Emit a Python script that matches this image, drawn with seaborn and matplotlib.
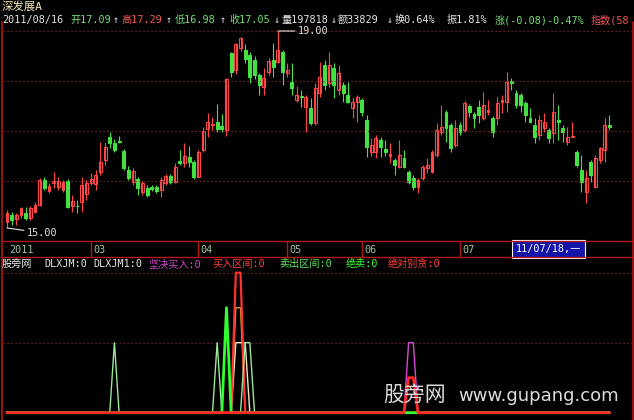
import numpy as np
import pandas as pd
import matplotlib
matplotlib.use("Agg")
import matplotlib.pyplot as plt
from matplotlib.lines import Line2D
import seaborn as sns

# ---------------- data ----------------
opens = [15.13, 15.26, 15.18, 15.26, 15.30, 15.20, 15.33, 15.47, 15.97, 15.76,
         15.92, 15.84, 15.78, 15.96, 15.45, 15.45, 15.53, 15.70, 15.91, 15.89,
         16.14, 16.38, 16.85, 16.73, 16.77, 16.57, 16.18, 15.94, 15.99, 15.73,
         15.81, 15.84, 15.84, 15.77, 15.91, 16.06, 15.94, 16.36, 16.32, 16.44,
         16.34, 16.04, 16.59, 17.00, 17.09, 17.16, 17.07, 16.99, 18.55, 18.21,
         18.65, 18.61, 18.51, 18.41, 18.11, 17.86, 18.17, 18.41, 18.37, 18.57,
         18.15, 17.96, 17.60, 17.68, 17.46, 17.44, 17.13, 17.74, 18.31, 17.94,
         18.25, 17.80, 17.90, 17.70, 17.44, 17.56, 17.60, 17.19, 16.54, 16.54,
         16.79, 16.60, 16.46, 16.38, 16.24, 16.42, 16.14, 16.01, 15.83, 16.01,
         16.22, 16.14, 16.48, 16.95, 17.36, 17.09, 16.69, 17.09, 16.99, 17.48,
         17.31, 17.46, 17.23, 17.36, 17.23, 17.23, 17.56, 17.56, 17.98, 17.74,
         17.70, 17.54, 17.23, 17.09, 16.89, 17.03, 16.99, 16.93, 17.19, 17.03,
         16.75, 16.85, 16.54, 16.18, 15.73, 16.34, 15.83, 16.38, 16.58, 17.09]
highs = [15.37, 15.33, 15.30, 15.43, 15.43, 15.45, 15.53, 16.02, 16.04, 15.91,
         16.14, 16.04, 15.98, 16.00, 15.67, 15.57, 16.04, 15.98, 16.12, 16.18,
         16.75, 16.75, 16.95, 16.81, 16.87, 16.61, 16.26, 16.22, 16.04, 15.96,
         15.87, 15.87, 15.87, 16.04, 16.10, 16.10, 16.32, 16.58, 16.73, 16.67,
         16.38, 16.58, 17.05, 17.34, 17.26, 17.52, 17.32, 18.05, 18.57, 18.76,
         18.88, 18.74, 18.57, 18.49, 18.15, 18.25, 18.45, 18.76, 19.00, 18.61,
         18.35, 18.35, 17.88, 17.80, 17.70, 17.64, 17.94, 18.37, 18.41, 18.57,
         18.35, 18.31, 17.96, 17.96, 17.64, 17.70, 17.64, 17.29, 16.83, 16.89,
         16.85, 16.79, 16.73, 16.42, 16.79, 16.58, 16.18, 16.08, 16.01, 16.28,
         16.42, 16.58, 17.13, 17.50, 17.40, 17.13, 17.19, 17.15, 17.58, 17.52,
         17.36, 17.60, 17.76, 17.60, 17.27, 17.66, 17.70, 18.17, 18.05, 17.80,
         17.74, 17.58, 17.44, 17.23, 17.29, 17.34, 17.03, 17.74, 17.50, 17.09,
         17.05, 17.15, 16.58, 16.48, 16.18, 16.38, 16.48, 16.65, 17.23, 17.29]
lows = [15.00, 15.06, 15.06, 15.20, 15.16, 15.16, 15.30, 15.45, 15.77, 15.71,
        15.81, 15.77, 15.73, 15.41, 15.33, 15.31, 15.33, 15.57, 15.87, 15.77,
        16.08, 16.28, 16.63, 16.55, 16.73, 16.18, 15.97, 15.87, 15.67, 15.67,
        15.63, 15.75, 15.71, 15.63, 15.87, 15.90, 15.91, 16.28, 16.24, 16.24,
        16.00, 16.04, 16.55, 16.85, 16.99, 16.95, 16.95, 16.87, 18.07, 18.13,
        18.59, 18.35, 17.95, 18.03, 17.70, 17.70, 18.11, 18.07, 18.35, 17.90,
        18.07, 17.70, 17.56, 17.46, 16.95, 17.09, 17.09, 17.66, 17.80, 17.86,
        17.64, 17.70, 17.56, 17.54, 17.23, 17.15, 17.27, 16.44, 16.46, 16.42,
        16.44, 16.46, 16.32, 16.08, 16.22, 16.22, 15.89, 15.77, 15.71, 15.97,
        16.12, 16.12, 16.44, 16.89, 16.75, 16.54, 16.64, 16.89, 16.95, 17.25,
        17.03, 17.13, 17.19, 17.29, 16.85, 17.09, 17.34, 17.36, 17.80, 17.44,
        17.36, 17.15, 17.13, 16.72, 16.79, 16.95, 16.72, 16.72, 16.79, 16.75,
        16.68, 16.85, 16.24, 15.73, 15.51, 15.93, 15.81, 16.32, 16.34, 16.98]
closes = [15.30, 15.16, 15.26, 15.41, 15.20, 15.41, 15.47, 15.97, 15.81, 15.86,
          15.96, 15.96, 15.93, 15.43, 15.55, 15.44, 15.87, 15.91, 15.99, 16.08,
          16.34, 16.65, 16.73, 16.59, 16.75, 16.22, 16.01, 16.16, 15.81, 15.92,
          15.67, 15.80, 15.75, 15.97, 16.06, 15.94, 16.24, 16.32, 16.46, 16.34,
          16.04, 16.54, 16.97, 17.16, 17.12, 17.00, 17.00, 18.03, 18.17, 18.74,
          18.86, 18.43, 18.07, 18.11, 17.90, 18.05, 18.39, 18.27, 18.61, 18.17,
          18.21, 17.84, 17.70, 17.66, 17.66, 17.13, 17.84, 18.07, 17.90, 18.31,
          17.90, 18.15, 17.74, 17.56, 17.56, 17.66, 17.36, 16.65, 16.69, 16.83,
          16.65, 16.54, 16.50, 16.28, 16.48, 16.24, 15.93, 15.83, 15.97, 16.24,
          16.28, 16.54, 16.99, 17.05, 17.03, 16.62, 17.03, 16.95, 17.54, 17.36,
          17.23, 17.29, 17.50, 17.40, 16.95, 17.54, 17.60, 17.96, 17.94, 17.50,
          17.50, 17.29, 17.15, 16.85, 17.19, 17.15, 16.83, 17.36, 17.15, 16.95,
          16.85, 16.87, 16.28, 15.93, 16.01, 16.08, 16.42, 16.62, 17.09, 17.05]

month_labels = ["2011", "03", "04", "05", "06", "07"]
month_idx = [0, 18, 41, 60, 76, 97]
cursor_idx = 108
cursor_label = "11/07/18,一"
max_label, min_label = "19.00", "15.00"

# indicator spikes (index, value); zero elsewhere
dlxjm_idx, dlxjm_val = [49, 50], [1.5, 1.5]
dlxjm1_idx, dlxjm1_val = [49, 50, 51], [1.0, 1.0, 1.0]
jjmr_idx, jjmr_val = [86, 87], [1.0, 1.0]
mrqj_idx, mrqj_val = [49, 50], [2.0, 2.0]
mcqj_idx, mcqj_val = [23, 45, 51, 52], [1.0, 1.0, 1.0, 1.0]
jm_idx, jm_val = [47], [1.5]
jdbt_idx, jdbt_val = [86, 87], [0.5, 0.5]

# ---------------- style ----------------
sns.set_theme(style="dark", rc={"axes.facecolor": "black", "figure.facecolor": "black",
                                "savefig.facecolor": "black"})
plt.rcParams["font.family"] = ["DejaVu Sans Mono", "Noto Sans CJK SC"]

W, H = 634, 420
fig = plt.figure(figsize=(W / 100, H / 100), dpi=100, facecolor="black")


def rect(x0, y0, x1, y1):
    return [x0 / W, 1 - y1 / H, (x1 - x0) / W, (y1 - y0) / H]


def fline(x0, y0, x1, y1, color, lw=1.0, ls="-"):
    fig.add_artist(Line2D([x0 / W, x1 / W], [1 - y0 / H, 1 - y1 / H],
                          transform=fig.transFigure, color=color, lw=lw, ls=ls))


def ftext(x, y, s, color, size=7.3, **kw):
    fig.text(x / W, 1 - y / H, s, color=color, fontsize=size, va="center", ha="left", **kw)


RED = "#FF4646"
GRN = "#44E044"
FRAME = "#B01818"
GRID = "#8A2A2A"
WHITE = "#E6E6E6"
XL = (-0.857, 133.83)

n = len(closes)
x = np.arange(n)
o, h, l, c = (np.array(v) for v in (opens, highs, lows, closes))
up = c >= o

# ---------------- price panel ----------------
ax = fig.add_axes(rect(3, 22, 632, 240))
ax.set_facecolor("black")
ax.set_xlim(*XL)
ax.set_ylim(14.756, 19.183)
for f in [0.271, 0.5, 0.729, 0.958]:
    ax.plot([0, 1], [f, f], transform=ax.transAxes, color=GRID, lw=0.8, ls=(0, (1.2, 2.4)))
ax.vlines(x[up], l[up], h[up], color=RED, lw=0.8)
ax.vlines(x[~up], l[~up], h[~up], color=GRN, lw=0.8)
bot = np.minimum(o, c)
ht = np.maximum(np.abs(c - o), 0.005)
ax.bar(x[up], ht[up], bottom=bot[up], width=0.62, facecolor="black", edgecolor=RED, lw=0.8)
ax.bar(x[~up], ht[~up], bottom=bot[~up], width=0.62, color=GRN, edgecolor=GRN, lw=0.8)
imax, imin = int(np.argmax(h)), int(np.argmin(l))
ax.annotate(max_label, xy=(imax, h[imax]), xytext=(14.5, 0), textcoords="offset points",
            color=WHITE, fontsize=7.3, va="center",
            arrowprops=dict(arrowstyle="-", color=WHITE, lw=0.8, shrinkA=0, shrinkB=0))
ax.annotate(min_label, xy=(imin, l[imin]), xytext=(14.5, -3.6), textcoords="offset points",
            color=WHITE, fontsize=7.3, va="center",
            arrowprops=dict(arrowstyle="-", color=WHITE, lw=0.8, shrinkA=0, shrinkB=0))
ax.set_xticks([]); ax.set_yticks([])
for s in ax.spines.values():
    s.set_visible(False)

# ---------------- date bar ----------------
axd = fig.add_axes(rect(3, 241, 632, 257))
axd.set_facecolor("black")
axd.set_xlim(*XL); axd.set_ylim(0, 1)
axd.vlines(month_idx[1:], 0, 1, color=FRAME, lw=1.0)
for i, lab in zip(month_idx, month_labels):
    axd.text(i + 0.5, 0.45, lab, color="#A6C2A0", fontsize=7.3, va="center", ha="left")
axd.text(cursor_idx + 0.9, 0.5, cursor_label, color="white", fontsize=7.3, va="center", ha="left",
         bbox=dict(boxstyle="square,pad=0.4", facecolor="#1414A8", edgecolor="white", lw=0.8))
axd.set_xticks([]); axd.set_yticks([])
for s in axd.spines.values():
    s.set_visible(False)

# ---------------- indicator panel ----------------
def spikes(idx, val):
    s = np.zeros(n)
    s[idx] = val
    return s


df = pd.DataFrame({"i": x,
                   "DLXJM": spikes(dlxjm_idx, dlxjm_val),
                   "DLXJM1": spikes(dlxjm1_idx, dlxjm1_val),
                   "坚决买入": spikes(jjmr_idx, jjmr_val),
                   "买入区间": spikes(mrqj_idx, mrqj_val),
                   "卖出区间": spikes(mcqj_idx, mcqj_val),
                   "绝卖": spikes(jm_idx, jm_val),
                   "绝对别贪": spikes(jdbt_idx, jdbt_val)})

axi = fig.add_axes(rect(3, 268, 632, 418))
axi.set_facecolor("black")
axi.set_xlim(*XL)
axi.set_ylim(-0.0757, 2.067)
for v in [1.0, 2.0]:
    axi.axhline(v, color=GRID, lw=0.8, ls=(0, (1.2, 2.4)))
series = [("DLXJM", "#D89A3A", 1.0), ("DLXJM1", "#F2E6BE", 1.0), ("坚决买入", "#D848D8", 1.0),
          ("买入区间", "#FF3030", 1.6), ("卖出区间", "#98E898", 1.0), ("绝卖", "#30FF30", 2.0),
          ("绝对别贪", "#FF2828", 2.0)]
for name, col, lw in series:
    sns.lineplot(data=df, x="i", y=name, ax=axi, color=col, lw=lw, legend=False)
axi.set_xlabel(""); axi.set_ylabel("")
axi.set_xticks([]); axi.set_yticks([])
for s in axi.spines.values():
    s.set_visible(False)

# ---------------- frame lines ----------------
fline(1.5, 22, 1.5, 420, FRAME, 1.2)
fline(632.5, 22, 632.5, 420, FRAME, 1.2)
fline(2, 241, 633, 241, FRAME, 1.0)
fline(2, 257, 633, 257, FRAME, 1.0)

# ---------------- header texts ----------------
ftext(2, 6, "深发展A", "#F2EAB8", size=8.2)
hdr = [(2, "2011/08/16", WHITE), (70, "开17.09", "#74E074"), (113, "↑", WHITE),
       (121, "高17.29", "#F25A5A"), (166, "↑", WHITE), (175, "低16.98", "#74E074"),
       (220, "↑", WHITE), (229, "收17.05", "#74E074"), (274, "↓", WHITE),
       (282, "量197818", WHITE), (331, "↓", WHITE), (338, "额33829", WHITE),
       (387, "↓", WHITE), (395, "换0.64%", WHITE), (447, "振1.81%", WHITE),
       (495, "涨(-0.08)-0.47%", "#74E074"), (591, "指数(58", "#F25A5A")]
for xx, s, col in hdr:
    ftext(xx, 20, s, col)

ind = [(2, "股旁网", WHITE), (44, "DLXJM:0", WHITE), (93, "DLXJM1:0", WHITE),
       (148, "坚决买入:0", "#D048D0"), (212, "买入区间:0", "#FF4040"),
       (279, "卖出区间:0", "#5CE05C"), (346, "绝卖:0", "#3CFF3C"), (388, "绝对别贪:0", "#FF4040")]
for xx, s, col in ind:
    ftext(xx, 264, s, col)

# watermark
ftext(383, 395, "股旁网", "#DCDCDC", size=15, family=["Noto Sans CJK SC"])
ftext(458, 396, "www.gupang.com", "#DCDCDC", size=13, family=["DejaVu Sans"])

fig.savefig("out.png", dpi=100, facecolor="black")
